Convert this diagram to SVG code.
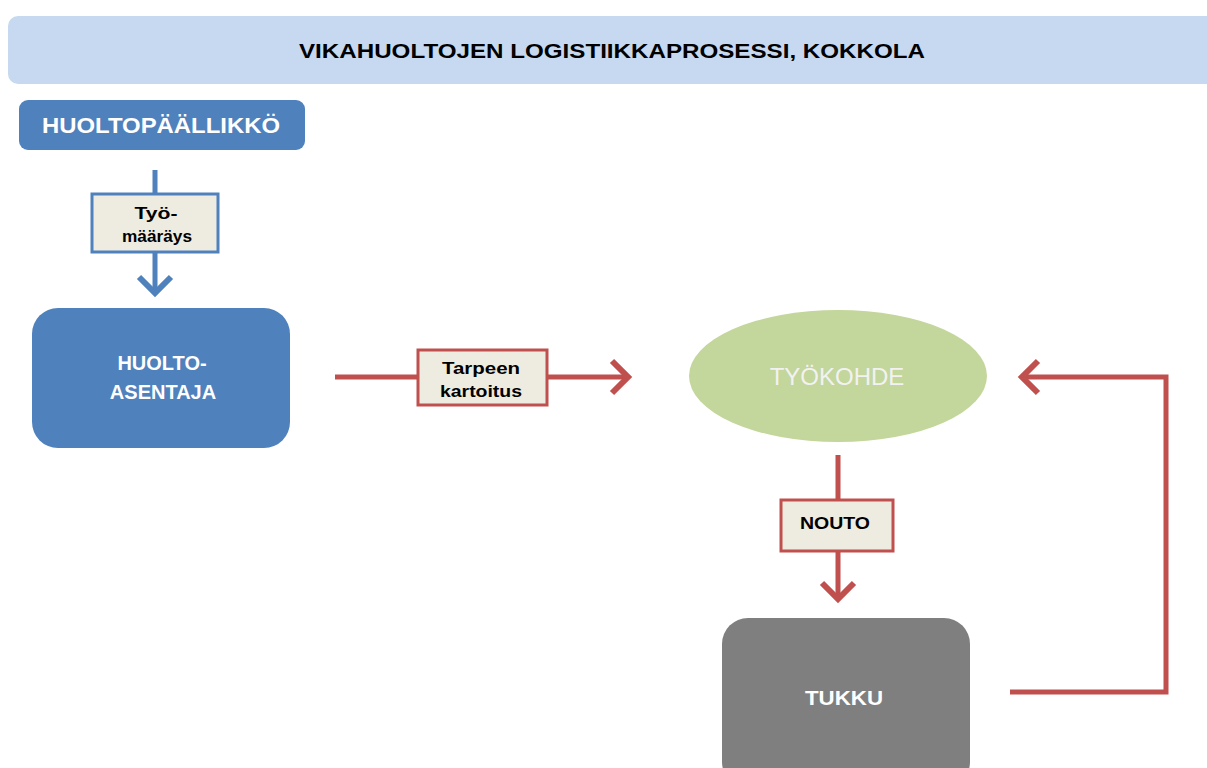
<svg xmlns="http://www.w3.org/2000/svg" width="1207" height="768" viewBox="0 0 1207 768">
  <defs>
    <!-- open chevron arrowheads -->
    <marker id="headBlue" viewBox="0 0 32 40" refX="24" refY="20" markerWidth="32" markerHeight="40" markerUnits="userSpaceOnUse" orient="auto">
      <path d="M8 4 L24 20 L8 36" fill="none" stroke="#4f81bd" stroke-width="6" stroke-linejoin="miter"/>
    </marker>
    <marker id="headRed" viewBox="0 0 32 40" refX="24" refY="20" markerWidth="32" markerHeight="40" markerUnits="userSpaceOnUse" orient="auto">
      <path d="M8 4 L24 20 L8 36" fill="none" stroke="#c0504d" stroke-width="6" stroke-linejoin="miter"/>
    </marker>
  </defs>
  <style>
    .title { font-family: "Liberation Sans", Arial, sans-serif; font-weight: bold; font-size: 21px; fill: #000; }
    .nodeText { font-family: "Liberation Sans", Arial, sans-serif; font-weight: bold; fill: #fff; }
    .label { font-family: "Liberation Sans", Arial, sans-serif; font-weight: bold; font-size: 16px; fill: #000; }
    .labelBox { fill: #eeece1; stroke-width: 3; }
    .blueLine { fill: none; stroke: #4f81bd; stroke-width: 5; }
    .redLine { fill: none; stroke: #c0504d; stroke-width: 5; }
  </style>

  <rect width="1207" height="768" fill="#ffffff"/>

  <!-- Title banner -->
  <g id="title">
    <rect x="8" y="16" width="1215" height="68" rx="10" fill="#c6d9f0"/>
    <text class="title" x="612" y="58" text-anchor="middle" textLength="626" lengthAdjust="spacingAndGlyphs">VIKAHUOLTOJEN LOGISTIIKKAPROSESSI, KOKKOLA</text>
  </g>

  <!-- Connectors -->
  <g id="connectors">
    <line class="blueLine" x1="155" y1="170" x2="155" y2="293" marker-end="url(#headBlue)"/>
    <line class="redLine" x1="335" y1="377" x2="628" y2="377" marker-end="url(#headRed)"/>
    <line class="redLine" x1="838" y1="455" x2="838" y2="599" marker-end="url(#headRed)"/>
    <polyline class="redLine" points="1010,692 1166,692 1166,377 1022,377" marker-end="url(#headRed)"/>
  </g>

  <!-- Connector labels -->
  <g id="label-tyomaarays">
    <rect class="labelBox" x="92" y="194" width="126" height="58" stroke="#4f81bd"/>
    <text class="label" x="156" y="219" text-anchor="middle" textLength="43" lengthAdjust="spacingAndGlyphs">Työ-</text>
    <text class="label" x="157" y="242" text-anchor="middle" textLength="70" lengthAdjust="spacingAndGlyphs">määräys</text>
  </g>
  <g id="label-tarpeen">
    <rect class="labelBox" x="418" y="350" width="129" height="55" stroke="#c0504d"/>
    <text class="label" x="481" y="374" text-anchor="middle" textLength="78" lengthAdjust="spacingAndGlyphs">Tarpeen</text>
    <text class="label" x="481" y="397" text-anchor="middle" textLength="82" lengthAdjust="spacingAndGlyphs">kartoitus</text>
  </g>
  <g id="label-nouto">
    <rect class="labelBox" x="781" y="500" width="112" height="51" stroke="#c0504d"/>
    <text class="label" x="835" y="529" text-anchor="middle" textLength="70" lengthAdjust="spacingAndGlyphs">NOUTO</text>
  </g>

  <!-- Nodes -->
  <g id="huoltopaallikko">
    <rect x="19" y="100" width="286" height="50" rx="9" fill="#4f81bd"/>
    <text class="nodeText" x="161" y="133" font-size="22" text-anchor="middle" textLength="238" lengthAdjust="spacingAndGlyphs">HUOLTOPÄÄLLIKKÖ</text>
  </g>
  <g id="huoltoasentaja">
    <rect x="32" y="308" width="258" height="140" rx="26" fill="#4f81bd"/>
    <text class="nodeText" x="162" y="370" font-size="20" text-anchor="middle">HUOLTO-</text>
    <text class="nodeText" x="163" y="399" font-size="20" text-anchor="middle">ASENTAJA</text>
  </g>
  <g id="tyokohde">
    <ellipse cx="838" cy="376" rx="149" ry="66" fill="#c3d69b"/>
    <text x="837" y="385" font-family="Liberation Sans, Arial, sans-serif" font-size="24" fill="#f2f2f2" text-anchor="middle">TYÖKOHDE</text>
  </g>
  <g id="tukku">
    <rect x="722" y="618" width="248" height="170" rx="26" fill="#7f7f7f"/>
    <text class="nodeText" x="844" y="705" font-size="20" text-anchor="middle" textLength="78" lengthAdjust="spacingAndGlyphs">TUKKU</text>
  </g>
</svg>
